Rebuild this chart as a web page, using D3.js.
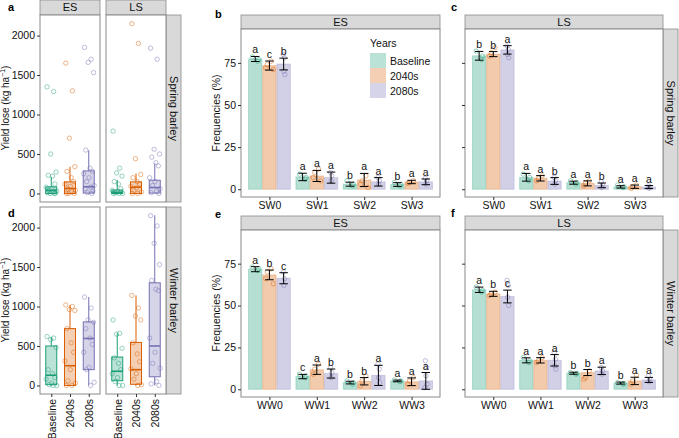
<!DOCTYPE html>
<html>
<head>
<meta charset="utf-8">
<script src="https://cdn.jsdelivr.net/npm/d3@7"></script>
<style>
body{margin:0;background:#fff}
svg{display:block;font-family:"Liberation Sans",Arial,sans-serif}
</style>
</head>
<body>
<svg width="679" height="438"></svg>
<script>
var periods = ["Baseline", "2040s", "2080s"],
	seasons = ["ES", "LS"],
	colors = ["#1b9e77", "#d95f02", "#7570b3"],
	yieldTicks = [0, 500, 1000, 1500, 2000],
	freqTicks = [0, 25, 50, 75],
	springClasses = ["SW0", "SW1", "SW2", "SW3"],
	winterClasses = ["WW0", "WW1", "WW2", "WW3"];

// box stats [low whisker, q1, median, q3, high whisker], by season then period
var springBox = {
	ES: [[0, 0, 40, 84, 210], [0, 0, 63, 147, 338], [0, 5, 85, 286, 548]],
	LS: [[0, 0, 13, 45, 170], [0, 0, 80, 147, 253], [0, 5, 75, 168, 380]]
};
var winterBox = {
	ES: [[0, 10, 130, 500, 615], [0, 0, 250, 720, 1020], [0, 200, 595, 805, 1120]],
	LS: [[0, 60, 180, 360, 660], [0, 15, 200, 545, 1140], [0, 110, 500, 1300, 2155]]
};
var springPts = {
	ES: [[1350, 1290, 500, 270, 230, 220, 120, 80, 60, 40, 30, 20, 10, 0, 0, 0],
		[1650, 1300, 700, 340, 280, 200, 150, 120, 90, 60, 40, 20, 0, 0, 0],
		[1850, 1700, 1660, 1530, 550, 320, 280, 250, 200, 150, 100, 80, 60, 30, 10, 0]],
	LS: [[790, 320, 260, 220, 150, 120, 60, 40, 20, 10, 0, 0, 0],
		[2150, 1900, 440, 240, 200, 150, 120, 90, 70, 40, 20, 0, 0],
		[1840, 1700, 560, 500, 460, 390, 350, 200, 150, 100, 60, 30, 10, 0]]
};
var winterPts = {
	ES: [[620, 600, 580, 480, 200, 150, 100, 80, 30, 10, 0, 0],
		[1020, 1000, 960, 950, 720, 540, 420, 310, 200, 60, 30, 0, 0],
		[1120, 980, 830, 800, 720, 600, 520, 420, 230, 200, 40, 0]],
	LS: [[830, 660, 650, 470, 350, 280, 200, 150, 100, 50, 0, 0],
		[1140, 980, 880, 830, 540, 400, 300, 210, 150, 80, 10, 0],
		[2150, 2020, 1800, 1530, 1330, 1220, 1200, 600, 420, 280, 220, 50, 20, 0]]
};

// frequency means, sd and letters: [class][period]
var springESMean = [[77.3, 73.4, 74.3], [7.3, 7.9, 6.9], [3.0, 5.5, 4.4], [2.8, 4.3, 4.4]],
	springESErr = [[1.5, 2.7, 3.5], [2.2, 3.3, 3.3], [1.2, 3.9, 2.5], [1.1, 1.0, 1.7]],
	springESLet = [["a", "c", "b"], ["a", "a", "a"], ["b", "a", "a"], ["b", "a", "a"]],
	springESPts = [[[78.5, 77, 76], [76, 74, 72, 71], [80, 78, 70, 68]],
		[[9, 7, 6], [12, 10, 7, 5], [10, 8, 5]],
		[[5, 3, 2], [8, 5, 3, 1], [7, 5, 3]],
		[[4, 3, 2], [5, 4, 3.5], [6.5, 5, 3]]];
var springLSMean = [[79.2, 80.2, 82.7], [7.1, 6.5, 4.9], [3.9, 3.5, 2.3], [1.4, 1.5, 1.3]],
	springLSErr = [[2.6, 1.5, 2.5], [2.3, 1.6, 2.0], [0.9, 1.5, 1.4], [0.7, 1.0, 0.9]],
	springLSLet = [["b", "b", "a"], ["a", "a", "b"], ["a", "a", "b"], ["a", "a", "a"]],
	springLSPts = [[[82, 79, 77], [84, 81, 79], [85, 83, 80, 78]],
		[[9, 7, 5], [8, 6.5, 5], [7, 5, 3]],
		[[5, 4, 3], [5, 3.5, 2], [4.5, 2.5, 1]],
		[[2.5, 1.5, 1], [2.5, 1.5, 0.5], [2, 1.3, 0.5]]];
var winterESMean = [[71.7, 68.3, 66.3], [7.6, 11.7, 9.4], [4.0, 4.8, 8.3], [5.0, 4.5, 5.0]],
	winterESErr = [[1.5, 2.9, 3.3], [1.3, 2.8, 2.7], [0.8, 2.2, 6.0], [0.5, 2.3, 5.0]],
	winterESLet = [["a", "b", "c"], ["c", "a", "b"], ["b", "b", "a"], ["a", "a", "a"]],
	winterESPts = [[[73, 72, 71], [72, 70, 66, 63], [70, 66, 62]],
		[[9, 8, 7], [15, 12, 9], [13, 10, 7]],
		[[5, 4, 3], [8, 5, 2], [15, 12, 7, 4]],
		[[5.5, 5, 4.5], [7, 5, 3], [17, 13, 8, 3, 1]]];
var winterLSMean = [[59.4, 57.0, 55.4], [17.3, 17.3, 17.3], [9.6, 10.0, 11.0], [3.7, 5.0, 5.6]],
	winterLSErr = [[1.6, 1.5, 3.8], [1.5, 1.6, 3.4], [0.6, 1.8, 2.2], [0.6, 2.2, 1.5]],
	winterLSLet = [["a", "b", "c"], ["a", "a", "a"], ["b", "b", "a"], ["b", "a", "a"]],
	winterLSPts = [[[61, 59, 58], [58, 57, 56], [65, 62, 55, 50]],
		[[19, 17, 16], [19, 17, 16], [22, 18, 14, 12]],
		[[10, 9.5, 9], [11, 7, 6], [13, 11, 9]],
		[[4, 3.5, 3], [8.5, 5, 3], [8, 6, 4.5]]];

var svg = d3.select("svg"),
	border = "#8a8a8a",
	jit = [-0.7, 0.4, -0.1, 0.8, -0.5, 0.2, 0.6, -0.85, 0.05, -0.35, 0.9, 0.3, -0.6, 0.7, -0.2, 0.5];

function strip(x, y, w, h, label, vertical) {
	svg.append("rect").attr("x", x).attr("y", y).attr("width", w).attr("height", h)
		.attr("fill", "#d9d9d9").attr("stroke", border).attr("stroke-width", 0.8);
	var t = svg.append("text").attr("text-anchor", "middle").attr("dy", "0.36em")
		.attr("font-size", 11).attr("fill", "#111").text(label);
	if (vertical) t.attr("transform", "translate(" + (x + w / 2) + "," + (y + h / 2) + ") rotate(90)");
	else t.attr("x", x + w / 2).attr("y", y + h / 2);
}

function panelLabel(x, y, s) {
	svg.append("text").attr("x", x).attr("y", y).attr("font-size", 11).attr("font-weight", "bold").text(s);
}

function styleAxis(g) {
	g.select(".domain").remove();
	g.selectAll("line").attr("stroke", "#333");
	g.selectAll("text").attr("font-size", 10.5).attr("fill", "#111").attr("font-family", null);
}

function boxPanel(x0, x1, y0, y1, stats, pts, showY, showX) {
	var x = d3.scalePoint().domain(periods).range([x0, x1]).padding(0.6),
		y = d3.scaleLinear().domain([-108, 2260]).range([y1, y0]),
		bw = 11, g = svg.append("g");
	g.append("rect").attr("x", x0).attr("y", y0).attr("width", x1 - x0).attr("height", y1 - y0)
		.attr("fill", "#fff").attr("stroke", border);
	periods.forEach(function(p, i) {
		var s = stats[i], cx = x(p), c = colors[i];
		g.append("line").attr("x1", cx).attr("x2", cx).attr("y1", y(s[0])).attr("y2", y(s[1])).attr("stroke", c);
		g.append("line").attr("x1", cx).attr("x2", cx).attr("y1", y(s[3])).attr("y2", y(s[4])).attr("stroke", c);
		g.append("rect").attr("x", cx - bw / 2).attr("width", bw).attr("y", y(s[3])).attr("height", Math.max(y(s[1]) - y(s[3]), 1))
			.attr("fill", c).attr("fill-opacity", 0.3).attr("stroke", c);
		g.append("line").attr("x1", cx - bw / 2).attr("x2", cx + bw / 2).attr("y1", y(s[2])).attr("y2", y(s[2]))
			.attr("stroke", c).attr("stroke-width", 1.6);
		g.selectAll(null).data(pts[i]).enter().append("circle")
			.attr("cx", function(d, k) { return cx + jit[k % jit.length] * 6; })
			.attr("cy", function(d) { return y(d); })
			.attr("r", 2.2).attr("fill", "none").attr("stroke", c).attr("stroke-opacity", 0.45);
	});
	if (showY) {
		svg.append("g").attr("transform", "translate(" + x0 + ",0)")
			.call(d3.axisLeft(y).tickValues(yieldTicks).tickFormat(d3.format("d")).tickSize(3).tickPadding(2)).call(styleAxis);
	}
	if (showX) {
		var ax = svg.append("g").attr("transform", "translate(0," + y1 + ")")
			.call(d3.axisBottom(x).tickSize(3)).call(styleAxis);
		ax.selectAll("text").attr("transform", "rotate(-90)").attr("text-anchor", "end")
			.attr("x", -5).attr("y", 0).attr("dy", "0.36em");
	}
}

function barPanel(x0, x1, y0, y1, classes, means, errs, lets, pts, showY) {
	var x = d3.scalePoint().domain(classes).range([x0, x1]).padding(0.6),
		y = d3.scaleLinear().domain([-4.6, 95.1]).range([y1, y0]),
		bw = x.step() * 0.3, g = svg.append("g");
	g.append("rect").attr("x", x0).attr("y", y0).attr("width", x1 - x0).attr("height", y1 - y0)
		.attr("fill", "#fff").attr("stroke", border);
	classes.forEach(function(cl, ci) {
		periods.forEach(function(p, pi) {
			var m = means[ci][pi], e = errs[ci][pi], c = colors[pi],
				cx = x(cl) + (pi - 1) * bw;
			g.append("rect").attr("x", cx - bw / 2 + 0.4).attr("width", bw - 0.8)
				.attr("y", y(m)).attr("height", y(0) - y(m))
				.attr("fill", c).attr("fill-opacity", 0.33).attr("stroke", c).attr("stroke-opacity", 0.25);
			g.selectAll(null).data(pts[ci][pi]).enter().append("circle")
				.attr("cx", function(d, k) { return cx + jit[(k * 3 + pi) % jit.length] * bw * 0.3; })
				.attr("cy", function(d) { return y(d); })
				.attr("r", 2.2).attr("fill", "none").attr("stroke", c).attr("stroke-opacity", 0.45);
			var cap = bw * 0.3;
			g.append("line").attr("x1", cx).attr("x2", cx).attr("y1", y(m - e)).attr("y2", y(m + e)).attr("stroke", "#000");
			[m - e, m + e].forEach(function(v) {
				g.append("line").attr("x1", cx - cap).attr("x2", cx + cap).attr("y1", y(v)).attr("y2", y(v)).attr("stroke", "#000");
			});
			g.append("text").attr("x", cx).attr("y", y(m + e) - 3).attr("text-anchor", "middle")
				.attr("font-size", 10.5).attr("fill", "#111").text(lets[ci][pi]);
		});
	});
	var ay = svg.append("g").attr("transform", "translate(" + x0 + ",0)")
		.call(d3.axisLeft(y).tickValues(freqTicks).tickSize(3).tickPadding(2)).call(styleAxis);
	if (!showY) ay.selectAll("text").remove();
	svg.append("g").attr("transform", "translate(0," + y1 + ")")
		.call(d3.axisBottom(x).tickSize(3).tickPadding(2)).call(styleAxis);
}

// panels a and d
strip(40, 0, 60, 15, "ES");
strip(106, 0, 60, 15, "LS");
strip(166, 15, 15, 187, "Spring barley", true);
strip(166, 207, 15, 187, "Winter barley", true);
boxPanel(40, 100, 15, 202, springBox.ES, springPts.ES, true, false);
boxPanel(106, 166, 15, 202, springBox.LS, springPts.LS, false, false);
boxPanel(40, 100, 207, 394, winterBox.ES, winterPts.ES, true, true);
boxPanel(106, 166, 207, 394, winterBox.LS, winterPts.LS, false, true);
[108, 300].forEach(function(cy) {
	var t = svg.append("text").attr("transform", "translate(9," + cy + ") rotate(-90)")
		.attr("text-anchor", "middle").attr("font-size", 10).attr("fill", "#111");
	t.append("tspan").text("Yield lose (kg ha");
	t.append("tspan").attr("font-size", 7).attr("dy", -4).text("\u22121");
	t.append("tspan").attr("dy", 4).text(")");
});
panelLabel(8, 11, "a");
panelLabel(8, 217, "d");

// panels b, c, e, f
strip(241, 15, 199, 14, "ES");
strip(465, 15, 198, 14, "LS");
strip(663, 29, 15, 168, "Spring barley", true);
strip(241, 216, 199, 14, "ES");
strip(465, 216, 198, 14, "LS");
strip(663, 230, 15, 167, "Winter barley", true);
barPanel(241, 440, 29, 197, springClasses, springESMean, springESErr, springESLet, springESPts, true);
barPanel(465, 663, 29, 197, springClasses, springLSMean, springLSErr, springLSLet, springLSPts, false);
barPanel(241, 440, 230, 397, winterClasses, winterESMean, winterESErr, winterESLet, winterESPts, true);
barPanel(465, 663, 230, 397, winterClasses, winterLSMean, winterLSErr, winterLSLet, winterLSPts, false);
[113, 313].forEach(function(cy) {
	svg.append("text").attr("transform", "translate(220," + cy + ") rotate(-90)")
		.attr("text-anchor", "middle").attr("font-size", 10.5).attr("fill", "#111").text("Frequencies (%)");
});
panelLabel(215, 18, "b");
panelLabel(451, 11, "c");
panelLabel(215, 218, "e");
panelLabel(451, 217, "f");

// legend
var legend = svg.append("g").attr("transform", "translate(370,0)");
legend.append("text").attr("x", 0).attr("y", 47).attr("font-size", 10.5).attr("fill", "#111").text("Years");
periods.forEach(function(p, i) {
	legend.append("rect").attr("x", 0).attr("y", 53 + i * 15).attr("width", 16).attr("height", 15)
		.attr("fill", colors[i]).attr("fill-opacity", 0.3);
	legend.append("text").attr("x", 20).attr("y", 64.5 + i * 15).attr("font-size", 10.5).attr("fill", "#111").text(p);
});
</script>
</body>
</html>
